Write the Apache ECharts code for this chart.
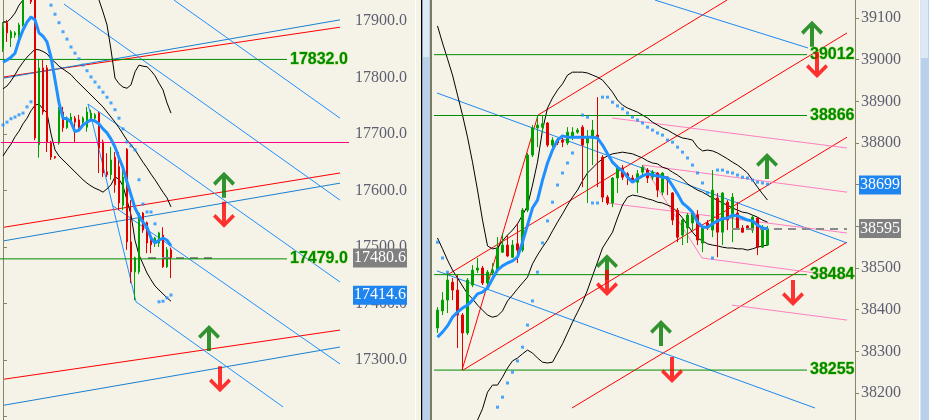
<!DOCTYPE html>
<html><head><meta charset="utf-8">
<script src="https://cdn.jsdelivr.net/npm/echarts/dist/echarts.min.js"></script>
<style>html,body{margin:0;padding:0;background:#f5f3e8;overflow:hidden}#c{width:929px;height:420px}</style>
</head><body><div id="c"></div>
<script>
// ---------- LEFT PANEL DATA (index 17xxx) ----------
const leftCandles = [ // [open, close, low, high]
 [17851,17889,17845,17898],[17897,17879,17863,17902],[17870,17881,17854,17884],[17875,17879,17870,17882],
 [17875,17893,17870,17897],[17893,17940,17890,17950],[17945,17970,17940,17980],[17980,17934,17930,17990],
 [17945,17693,17689,17950],[17681,17817,17658,17831],[17817,17739,17734,17831],[17817,17686,17668,17822],
 [17686,17659,17654,17688],[17660,17658,17656,17661],[17684,17743,17681,17748],[17739,17711,17704,17748],
 [17711,17728,17709,17731],[17721,17730,17719,17737],[17728,17721,17686,17732],[17725,17711,17704,17734],
 [17721,17728,17718,17731],[17712,17739,17704,17748],[17728,17737,17725,17743],[17728,17734,17725,17737],
 [17737,17675,17631,17739],[17686,17631,17624,17690],[17633,17628,17624,17666],[17628,17654,17619,17677],
 [17659,17610,17596,17668],[17642,17578,17565,17668],[17574,17624,17565,17642],[17673,17509,17495,17675],
 [17509,17456,17436,17583],[17456,17481,17406,17483],[17456,17560,17452,17562],[17560,17530,17525,17562],
 [17543,17507,17489,17545],[17516,17504,17489,17518],[17509,17516,17500,17518],[17507,17525,17500,17527],
 [17521,17465,17463,17535],[17465,17495,17463,17500],[17495,17481,17445,17499]
];
const leftMA = [17827,17831,17836,17843,17866,17884,17898,17907,17902,17879,17873,17863,17836,17796,17755,17728,17727,17721,17704,17707,17716,17721,17725,17723,17718,17709,17702,17691,17677,17658,17640,17615,17592,17569,17555,17544,17535,17516,17507,17512,17516,17512,17502];
const leftBandUp = [17898,17898,17905,17914,17928,17937,17944,17946,17950,17944,17948,17946,17966,17983,17990,17994,17996,17996,17994,17990,17985,17980,17969,17955,17937,17916,17893,17849,17799,17789,17783,17781,17787,17810,17822,17820,17819,17812,17803,17790,17778,17755,17737];
const leftBandMid = [17780,17785,17794,17805,17817,17827,17836,17843,17850,17849,17846,17842,17833,17827,17820,17815,17810,17805,17797,17790,17783,17776,17769,17762,17755,17748,17739,17730,17721,17711,17700,17689,17681,17672,17661,17650,17640,17629,17619,17608,17597,17587,17571];
const leftBandLow = [17661,17672,17682,17695,17705,17718,17728,17741,17751,17753,17744,17737,17700,17672,17661,17654,17647,17640,17633,17626,17619,17613,17608,17604,17601,17597,17603,17610,17624,17620,17608,17583,17557,17512,17486,17470,17454,17442,17431,17424,17417,17410,17404];
const leftSAR = [17716,17721,17727,17730,17734,17737,17748,17757,'-','-','-','-',
 17928,17912,17897,17881,17868,17854,17843,17833,17822,17812,17801,17792,17783,17774,17765,17755,17743,17728,17709,17686,17679,17672,17619,17576,17562,17562,17541,
 17403,17404,17410,17415];
const leftRedLines = [[[0.25,17801],[84.25,17889]],[[0.25,17535],[84.25,17631]],[[0.25,17266],[84.25,17353]]];
const leftPairBlueLines = [[[0.25,17799],[84.25,17902]],[[0.25,17511],[84.25,17613]],[[0.25,17220],[84.25,17323]]];
const leftFanLines = [[[15.25,17930],[84.25,17583]],[[42.75,17937],[84.25,17728]],[[21.25,17753],[84.25,17438]],
 [[27.25,17574],[84.25,17293]],[[33.25,17403],[70,17217]],[[21.25,17753],[33.25,17403]]];
const leftLevels = [17832.0, 17479.0];
const leftLevelSpan = [-0.75, 71];
const leftPink = 17686;
const leftBid = 17480.6, leftAsk = 17414.6;
const leftBidSpan = [36.25, 52.25];
const leftUpArrows = [[55.25,17610],[51.5,17339]];
const leftDownArrows = [[55.25,17557],[54.25,17266]];
const leftTickFloor = 17300;

// ---------- RIGHT PANEL DATA (index 38xxx) ----------
const rightCandles = [
 [38356,38399,38344,38406],[38397,38423,38387,38442],[38423,38471,38392,38488],[38466,38447,38423,38476],
 [38447,38387,38308,38483],[38387,38344,38255,38392],[38344,38471,38339,38476],[38459,38495,38454,38507],
 [38495,38500,38488,38524],[38500,38464,38459,38505],[38464,38490,38459,38495],[38488,38495,38483,38512],
 [38495,38548,38490,38574],[38538,38555,38536,38584],[38555,38529,38526,38579],[38526,38555,38524,38567],
 [38558,38543,38512,38608],[38543,38639,38538,38644],[38639,38771,38634,38776],[38771,38836,38766,38843],
 [38836,38843,38790,38867],[38838,38846,38824,38867],[38848,38795,38790,38850],[38795,38807,38790,38814],
 [38807,38800,38795,38812],[38807,38802,38790,38812],[38800,38826,38795,38838],[38814,38826,38807,38838],
 [38826,38831,38822,38836],[38838,38795,38694,38843],[38800,38814,38656,38831],[38814,38831,38747,38855],
 [38819,38812,38694,38910],[38766,38670,38658,38771],[38670,38656,38651,38675],[38656,38716,38646,38718],
 [38716,38742,38680,38747],[38740,38718,38711,38747],[38726,38718,38699,38730],[38716,38711,38704,38723],
 [38706,38726,38680,38735],[38730,38742,38723,38747],[38735,38716,38704,38740],[38718,38730,38711,38735],
 [38728,38687,38670,38730],[38682,38728,38675,38730],[38718,38711,38675,38720],[38680,38615,38603,38682],
 [38639,38574,38562,38644],[38579,38615,38555,38620],[38596,38627,38560,38632],[38608,38632,38591,38634],
 [38627,38567,38555,38639],[38560,38596,38538,38603],[38608,38596,38591,38615],[38591,38687,38574,38735],
 [38668,38586,38526,38680],[38586,38680,38555,38682],[38658,38615,38591,38663],[38622,38670,38562,38680],
 [38632,38596,38591,38658],[38596,38586,38584,38603],[38601,38596,38591,38603],[38591,38622,38584,38627],
 [38620,38550,38531,38622],[38550,38598,38548,38603],[38555,38594,38553,38601]
];
const rightMA = [38334,38346,38361,38382,38394,38404,38411,38423,38438,38442,38452,38474,38495,38505,38512,38517,38526,38562,38603,38644,38663,38711,38752,38783,38807,38817,38814,38814,38814,38814,38814,38814,38812,38795,38774,38754,38742,38733,38718,38706,38714,38721,38726,38723,38721,38718,38716,38697,38678,38656,38646,38634,38610,38598,38598,38606,38613,38618,38620,38627,38625,38620,38615,38613,38603,38596,38594];
const rightBandUp = [39081,39040,39002,38963,38915,38867,38814,38754,38687,38615,38553,38546,38548,38565,38579,38591,38606,38627,38649,38699,38754,38831,38884,38908,38927,38942,38963,38970,38970,38970,38968,38963,38958,38951,38937,38922,38903,38891,38884,38879,38874,38867,38860,38850,38843,38836,38831,38824,38817,38812,38810,38807,38790,38781,38783,38781,38776,38769,38762,38754,38747,38738,38728,38711,38694,38678,38663];
const rightBandMid = [38572,38546,38519,38495,38476,38457,38438,38426,38411,38399,38387,38382,38385,38397,38421,38435,38450,38464,38478,38510,38531,38550,38567,38589,38610,38630,38651,38670,38687,38709,38728,38740,38752,38762,38769,38774,38776,38778,38776,38774,38769,38764,38757,38752,38750,38742,38738,38730,38723,38714,38702,38694,38687,38682,38675,38668,38663,38656,38651,38644,38639,38634,38632,38627,38622,38615,38610];
const rightBandLow = [38063,38051,38037,38027,38037,38046,38061,38097,38135,38162,38202,38219,38219,38238,38260,38277,38284,38294,38303,38296,38284,38274,38272,38274,38296,38318,38344,38370,38394,38418,38447,38481,38514,38548,38567,38586,38620,38651,38670,38675,38673,38670,38666,38663,38658,38656,38651,38646,38634,38620,38603,38586,38572,38565,38558,38555,38553,38550,38548,38548,38546,38546,38543,38546,38550,38553,38555];
const rightSAR = [38562,38524,38490,'-','-','-','-','-','-','-','-','-',
 38166,38190,38224,38250,38277,38310,38363,38421,38490,38560,38613,38658,38699,38728,38752,38776,'-',
 38867,38862,38656,38656,38910,38910,38898,38889,38882,38872,38862,38855,38848,38838,38831,38824,38819,38807,38802,38790,38778,38764,38747,38728,38704,38680,38524,
 38735,38735,38730,38728,38723,38718,38716,38711,38706,38704,38701];
const rightRedLines = [[[5.9,38255],[21.1,38867]],[[21.1,38867],[58.9,39143]],[[2.9,38483],[82.9,39064]],
 [[6.1,38255],[82.9,38814]],[[27.9,38164],[82.9,38562]]];
const rightBlueLines = [[[0.9,38920],[82.9,38560]],[[44.5,39143],[75.1,39028]],[[0.9,38493],[76.5,38164]]];
const rightPinkLines = [[[35.9,38860],[82.9,38788]],[[42.1,38747],[82.9,38682]],[[34.9,38656],[82.9,38584]],
 [[53.9,38524],[82.9,38478]],[[59.9,38411],[82.9,38375]],[[42.1,38747],[53.9,38524]]];
const rightLevels = [39012, 38866, 38484, 38255];
const rightLevelSpan = [-0.1, 74.9];
const rightBid = 38595, rightAsk = 38699;
const rightBidSpan = [59.9, 82.9];
const rightUpArrows = [[75.9,39062],[66.9,38745],[34.9,38502],[45.7,38344]];
const rightDownArrows = [[76.9,38987],[72.1,38440],[34.9,38464],[47.9,38255]];
const rightTickFloor = 38200;

// ---------- STYLE ----------
const BG = '#f5f3e8', UP = '#00a000', DN = '#e00000', AXIS = '#85856a', LBL = '#5e5e6e';
const LEVEL_GREEN = '#008c00';
const ARROW_UP = 'path://M11 0 L22 11 L19.5 13.8 L13 7 L13 26 L9 26 L9 7 L2.5 13.8 L0 11 Z';
const ARROW_DN = 'path://M11 26 L22 15 L19.5 12.2 L13 19 L13 0 L9 0 L9 19 L2.5 12.2 L0 15 Z';

const chart = echarts.init(document.getElementById('c'), null, {renderer: 'canvas'});
const series = [];

function segSeries(segs, color, width, xi, yi, z) {
  segs.forEach(s => series.push({type:'line', xAxisIndex:xi, yAxisIndex:yi, data:s, showSymbol:false, symbol:'none',
    lineStyle:{color:color, width:width}, z:z, silent:true, clip:true}));
}
function curve(vals, color, width, xi, yi, z) {
  series.push({type:'line', xAxisIndex:xi, yAxisIndex:yi, data:vals, showSymbol:false, symbol:'none',
    lineStyle:{color:color, width:width}, z:z, silent:true, connectNulls:false});
}
function dots(vals, xi, yi) {
  const d = []; vals.forEach((v,i) => { if (v !== '-') d.push([i, v]); });
  series.push({type:'scatter', xAxisIndex:xi, yAxisIndex:yi, data:d, symbol:'rect', symbolSize:3,
    itemStyle:{color:'#1e90ff'}, z:6, silent:true});
}
function candles(data, xi, yi) {
  series.push({type:'candlestick', xAxisIndex:xi, yAxisIndex:yi, data:data, barWidth:2,
    itemStyle:{color:UP, color0:DN, borderColor:UP, borderColor0:DN, borderWidth:1}, z:4, silent:true});
}
function arrows(pts, up, xi, yi) {
  series.push({type:'scatter', xAxisIndex:xi, yAxisIndex:yi, data:pts, symbol: up ? ARROW_UP : ARROW_DN,
    symbolSize:[22,26], itemStyle:{color: up ? '#007a00' : '#ff0000'}, z:7, silent:true});
}
function levelLines(levels, span, fmt, xi, yi) {
  levels.forEach(v => series.push({type:'line', xAxisIndex:xi, yAxisIndex:yi,
    data:[[span[0], v], [span[1], v]], showSymbol:false, symbol:'none', silent:true, z:5, clip:false,
    lineStyle:{color:LEVEL_GREEN, width:1},
    endLabel:{show:true, distance:3, formatter:fmt(v), color:'#008a00', fontWeight:'bold', fontSize:16,
      fontFamily:'Liberation Sans, Arial, sans-serif', textBorderColor:'rgba(175,220,100,0.9)', textBorderWidth:1,
      align:'left', verticalAlign:'middle'}}));
}
function markers(xi, yi, pink, bid, bidSpan, tags) {
  const ml = [];
  if (pink != null) ml.push({yAxis:pink, lineStyle:{color:'#ff0080', width:1.2, type:'solid'}, label:{show:false}});
  const bs = {color:'#8a8a8a', width:2, type:[8,6]};
  ml.push([{coord:[bidSpan[0], bid], lineStyle:bs, label:{show:false}}, {coord:[bidSpan[1], bid], lineStyle:bs, label:{show:false}}]);
  series.push({type:'line', xAxisIndex:xi, yAxisIndex:yi, data:[], z:5, silent:true,
    markLine:{symbol:['none','none'], silent:true, animation:false, data:ml, z:5}});
  const tl = tags.map(t => ({yAxis:t[0], lineStyle:{color:'rgba(0,0,0,0)', width:1, opacity:1},
    label:{show:true, position:'end', distance:4, formatter:t[1], color:'#ffffff', backgroundColor:t[2],
      fontFamily:'Liberation Serif, serif', fontSize:16, lineHeight:17, padding:[1,1,1,1]}}));
  series.push({type:'line', xAxisIndex:xi, yAxisIndex:yi, data:[], z:9, silent:true,
    markLine:{symbol:['none','none'], silent:true, animation:false, data:tl, z:9}});
}

// left (x cat 0, x val 1, y 0)
segSeries(leftRedLines, '#ff0000', 1, 1, 0, 2);
segSeries(leftPairBlueLines, '#1a80d0', 1, 1, 0, 2);
segSeries(leftFanLines, '#2090ff', 1, 1, 0, 2);
markers(1, 0, leftPink, leftBid, leftBidSpan,
  [[leftBid, leftBid.toFixed(1), '#808080'], [leftAsk, leftAsk.toFixed(1), '#1e84f0']]);
levelLines(leftLevels, leftLevelSpan, v => v.toFixed(1), 1, 0);
curve(leftBandUp, '#000', 1, 0, 0, 3);
curve(leftBandMid, '#000', 1, 0, 0, 3);
curve(leftBandLow, '#000', 1, 0, 0, 3);
candles(leftCandles, 0, 0);
curve(leftMA, '#1e90ff', 3, 0, 0, 5);
dots(leftSAR, 0, 0);
arrows(leftUpArrows, true, 1, 0);
arrows(leftDownArrows, false, 1, 0);

// right (x cat 2, x val 3, y 1)
segSeries(rightRedLines, '#ff0000', 1, 3, 1, 2);
segSeries(rightBlueLines, '#1e88f0', 1, 3, 1, 2);
segSeries(rightPinkLines, '#ff80c0', 1, 3, 1, 2);
markers(3, 1, null, rightBid, rightBidSpan,
  [[rightAsk, String(rightAsk), '#1e84f0'], [rightBid, String(rightBid), '#808080']]);
levelLines(rightLevels, rightLevelSpan, v => String(v), 3, 1);
curve(rightBandUp, '#000', 1, 2, 1, 3);
curve(rightBandMid, '#000', 1, 2, 1, 3);
curve(rightBandLow, '#000', 1, 2, 1, 3);
candles(rightCandles, 2, 1);
curve(rightMA, '#1e90ff', 3, 2, 1, 5);
dots(rightSAR, 2, 1);
arrows(rightUpArrows, true, 3, 1);
arrows(rightDownArrows, false, 3, 1);

function yAxisCfg(gi, min, max, floor, fmt) {
  return {type:'value', gridIndex:gi, position:'right', min:min, max:max, interval:100, scale:false,
    axisLine:{show:true, lineStyle:{color:AXIS, width:1}},
    axisTick:{show:true, inside:false, length:4, lineStyle:{color:AXIS}},
    splitLine:{show:false},
    axisLabel:{show:true, margin:6, formatter: v => (v < floor ? '' : fmt(v)), color:LBL,
      fontFamily:'Liberation Serif, serif', fontSize:16, hideOverlap:false}};
}
const leftSlots = Array.from({length:87}, (_, i) => String(i));
const rightSlots = Array.from({length:84}, (_, i) => String(i));

chart.setOption({
  backgroundColor: BG,
  animation: false,
  grid: [
    {left:1, top:-35.5, width:348, height:508.5, containLabel:false, outerBoundsMode:'none'},
    {left:435, top:-23.67, width:420, height:500, containLabel:false, outerBoundsMode:'none'}
  ],
  xAxis: [
    {type:'category', gridIndex:0, data:leftSlots, show:false, boundaryGap:true},
    {type:'value', gridIndex:0, min:-0.5, max:86.5, show:false},
    {type:'category', gridIndex:1, data:rightSlots, show:false, boundaryGap:true},
    {type:'value', gridIndex:1, min:0.5, max:84.5, show:false}
  ],
  yAxis: [
    yAxisCfg(0, 17100, 18000, leftTickFloor, v => v.toFixed(1)),
    yAxisCfg(1, 38000, 39200, rightTickFloor, v => String(v))
  ],
  graphic: [
    {type:'rect', shape:{x:415, y:0, width:1, height:420}, style:{fill:'#ffffff'}, silent:true},
    {type:'rect', shape:{x:421, y:0, width:1.5, height:420}, style:{fill:'#000000'}, silent:true},
    {type:'rect', shape:{x:422.5, y:0, width:7.5, height:420}, style:{fill:'#b8d0e9'}, silent:true},
    {type:'rect', shape:{x:423, y:0, width:6, height:57}, style:{fill:'#dde9f5'}, silent:true},
    {type:'rect', shape:{x:430, y:0, width:2, height:420}, style:{fill:'#7d7b5e'}, silent:true},
    {type:'rect', shape:{x:919, y:0, width:1.5, height:420}, style:{fill:'#ffffff'}, silent:true},
    {type:'rect', shape:{x:920.5, y:0, width:8.5, height:420}, style:{fill:'#b8d0e9'}, silent:true},
    {type:'rect', shape:{x:921, y:0, width:7, height:58}, style:{fill:'#dde9f5'}, silent:true}
  ],
  series: series
});
</script></body></html>
